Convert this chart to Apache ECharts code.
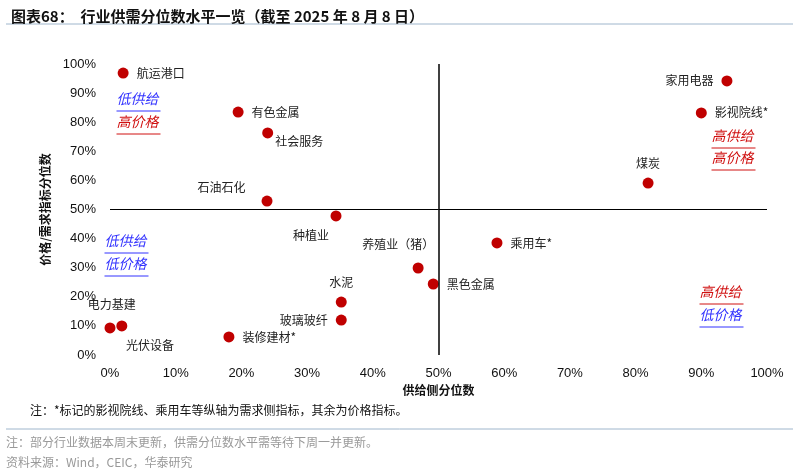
<!DOCTYPE html>
<html><head><meta charset="utf-8">
<script src="https://cdn.jsdelivr.net/npm/echarts@6/dist/echarts.min.js"></script>
<style>body{margin:0}#c{width:799px;height:475px}</style></head>
<body><div id="c"></div>
<script>
const names = ['航运港口','有色金属','社会服务','石油石化','种植业','养殖业（猪）','黑色金属','水泥','玻璃玻纤','装修建材*','电力基建','光伏设备','乘用车*','煤炭','影视院线*','家用电器'];
const supply = [2,19.5,24,23.9,34.4,46.9,49.2,35.2,35.2,18.1,1.8,0,58.9,81.9,90,93.9];
const price = [96.9,83.5,76.3,52.9,47.8,29.9,24.4,18.2,12.0,6.2,10.0,9.3,38.5,59.1,83.2,94.2];
const labelPos = ['right','right','right','left','bottom','top','right','top','left','right','top','bottom','right','top','right','left'];
const xTicks = [0,10,20,30,40,50,60,70,80,90,100];
const font = '"Noto Sans CJK SC", sans-serif';
const lblOffsets = {'种植业':[-25,0],'养殖业（猪）':[-20,-4],'电力基建':[-10,-2],'光伏设备':[40,-2],'社会服务':[-6,8],'石油石化':[-8,-14]};
const data = names.map((n,i)=>{
  const o = lblOffsets[n]||[0,0];
  return {value:[supply[i],price[i]],name:n,label:{position:labelPos[i],offset:o}};
});
function qText(x,y,t,color){
  return {type:'group',left:x,top:y,children:[
    {type:'text',style:{text:t,fill:color,font:'italic 14px '+font}},
    {type:'line',shape:{x1:0,y1:19,x2:44,y2:19},style:{stroke:color,lineWidth:1}}
  ]};
}
const blue='#3333ff', red='#d01010';
const chart = echarts.init(document.getElementById('c'));
chart.setOption({
  animation:false,
  title:{text:'图表68：  行业供需分位数水平一览（截至 2025 年 8 月 8 日）',left:6,top:4,textStyle:{fontSize:15,fontWeight:'bold',color:'#111',fontFamily:font}},
  grid:{left:110,right:32,top:64,bottom:120},
  xAxis:{type:'value',min:0,max:100,interval:10,name:'供给侧分位数',nameLocation:'middle',nameGap:26,
    nameTextStyle:{fontSize:12,fontWeight:'bold',color:'#111',fontFamily:font,padding:[0,0,0,0]},
    axisLine:{show:false},axisTick:{show:false},splitLine:{show:false},
    axisLabel:{formatter:v=>v+'%',fontSize:13,color:'#111',margin:12,fontFamily:'Liberation Sans'}},
  yAxis:{type:'value',min:0,max:100,interval:10,name:'价格/需求指标分位数',nameLocation:'middle',nameGap:50,
    nameTextStyle:{fontSize:12,fontWeight:'bold',color:'#111',fontFamily:font},
    axisLine:{show:false},axisTick:{show:false},splitLine:{show:false},
    axisLabel:{formatter:v=>v+'%',fontSize:13,color:'#111',margin:14,fontFamily:'Liberation Sans'}},
  series:[{type:'scatter',symbolSize:11,itemStyle:{color:'#c00000',opacity:1},
    label:{show:true,formatter:'{b}',fontSize:12,color:'#222',fontFamily:font,distance:8},
    data:data,
    markLine:{silent:true,symbol:'none',label:{show:false},lineStyle:{color:'#000',width:1.5,type:'solid'},
      data:[{xAxis:50},{yAxis:50,lineStyle:{width:1}}]}
  }],
  graphic:[
    {type:'line',shape:{x1:6,y1:24,x2:793,y2:24},style:{stroke:'#9fb6cc',lineWidth:1}},
    {type:'line',shape:{x1:6,y1:429,x2:793,y2:429},style:{stroke:'#9fb6cc',lineWidth:1}},
    qText(114,92,'低供给',blue),qText(114,115,'高价格',red),
    qText(102,234,'低供给',blue),qText(102,257,'低价格',blue),
    qText(709,129,'高供给',red),qText(709,151,'高价格',red),
    qText(697,285,'高供给',red),qText(697,308,'低价格',blue),
    {type:'text',left:30,top:404,style:{text:'注：*标记的影视院线、乘用车等纵轴为需求侧指标，其余为价格指标。',font:'12px '+font,fill:'#111'}},
    {type:'text',left:6,top:436,style:{text:'注：部分行业数据本周末更新，供需分位数水平需等待下周一并更新。',font:'12px '+font,fill:'#999'}},
    {type:'text',left:6,top:456,style:{text:'资料来源：Wind，CEIC，华泰研究',font:'12px '+font,fill:'#999'}}
  ]
});
</script></body></html>
